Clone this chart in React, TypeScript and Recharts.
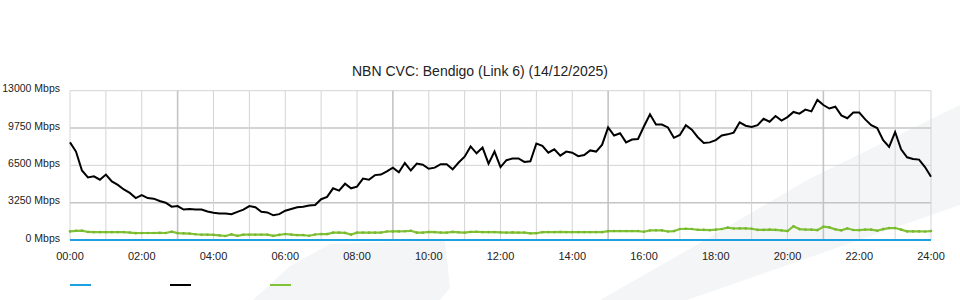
import React from 'react';
import { LineChart, Line, XAxis, YAxis, ReferenceLine } from 'recharts';

const titleText = 'NBN CVC: Bendigo (Link 6) (14/12/2025)';

// 10-minute samples, 00:00 .. 24:00 (145 points)
const trafficIn = [
  8500, 7700, 6050, 5450, 5550, 5250, 5700, 5100, 4800, 4400,
  4100, 3650, 3900, 3650, 3600, 3400, 3250, 2900, 2950, 2650,
  2700, 2650, 2650, 2480, 2380, 2300, 2300, 2250, 2450, 2650,
  2950, 2850, 2450, 2400, 2150, 2250, 2550, 2700, 2850, 2900,
  3000, 3050, 3550, 3750, 4500, 4300, 4900, 4500, 4650, 5350,
  5250, 5650, 5700, 5980, 6300, 5900, 6700, 6050, 6650, 6550,
  6200, 6300, 6600, 6600, 6150, 6750, 7250, 8150, 7550, 8050,
  6650, 7700, 6350, 6950, 7100, 7100, 6800, 6850, 8400, 8200,
  7600, 7900, 7350, 7700, 7600, 7300, 7400, 7800, 7700, 8300,
  9800, 9100, 9300, 8500, 8750, 8800, 9900, 10950, 10050, 10050,
  9800, 8900, 9150, 10000, 9600, 8950, 8450, 8500, 8700, 9100,
  9200, 9350, 10250, 9950, 9850, 10000, 10550, 10300, 10800, 10400,
  10700, 11150, 11000, 11350, 11200, 12200, 11750, 11450, 11600, 10850,
  10600, 11100, 11100, 10500, 10000, 9750, 8700, 8100, 9400, 7900,
  7200, 7050, 7000, 6350, 5500,
];

const trafficOut = [
  750, 800, 810, 700, 690, 690, 690, 690, 690, 690,
  650, 600, 610, 610, 610, 620, 610, 720, 600, 580,
  560, 500, 460, 460, 450, 400, 350, 490, 360, 460,
  460, 460, 460, 460, 360, 450, 520, 470, 430, 430,
  370, 480, 520, 520, 640, 640, 620, 470, 640, 640,
  640, 640, 650, 740, 750, 750, 760, 800, 640, 640,
  700, 690, 650, 640, 710, 670, 640, 700, 720, 690,
  690, 690, 660, 640, 660, 640, 650, 580, 590, 680,
  690, 690, 700, 690, 690, 690, 690, 690, 690, 690,
  770, 780, 780, 780, 780, 780, 720, 830, 840, 840,
  740, 780, 960, 980, 960, 890, 880, 860, 900, 960,
  1080, 1000, 1010, 1010, 980, 880, 880, 900, 880, 830,
  780, 1200, 950, 910, 900, 860, 1160, 1100, 930, 840,
  1000, 870, 860, 900, 900, 810, 950, 1040, 1040, 900,
  750, 750, 750, 740, 780,
];

const capacity = trafficIn.map(() => 0);

const xTickMinutes = [0, 120, 240, 360, 480, 600, 720, 840, 960, 1080, 1200, 1320, 1440];
const xTickLabels = ['00:00', '02:00', '04:00', '06:00', '08:00', '10:00', '12:00', '14:00', '16:00', '18:00', '20:00', '22:00', '24:00'];
const yTicks = [0, 3250, 6500, 9750, 13000];
const gridHours = [0, 1, 2, 3, 4, 5, 6, 7, 8, 9, 10, 11, 12, 13, 14, 15, 16, 17, 18, 19, 20, 21, 22, 23, 24];
const strongHours = [3, 9, 15, 21];
const strongYs = [3250, 9750];

const series = [
  { key: 'capacity', name: 'Capacity', color: '#1ca0e0' },
  { key: 'inbound', name: 'Inbound', color: '#000000' },
  { key: 'outbound', name: 'Outbound', color: '#82c236' },
];

const data = trafficIn.map((v, i) => ({
  t: i * 10,
  capacity: capacity[i],
  inbound: v,
  outbound: trafficOut[i],
}));

const FONT = '"Liberation Sans", Arial, sans-serif';

const YTick = (props: any) => {
  const { x, y, payload } = props;
  return (
    <text x={x} y={y - 2} dy="0.355em" textAnchor="end" fontSize={10.5} fill="#222" fontFamily={FONT}>
      {`${payload.value} Mbps`}
    </text>
  );
};

export default function App() {
  return (
    <div style={{ position: 'absolute', left: 0, top: 0, width: 960, height: 300, background: '#fff', fontFamily: FONT }}>
      <svg width={960} height={300} style={{ position: 'absolute', left: 0, top: 0 }}>
        <polygon points="253,300 290,266 330,244 445,240 450,288 440,300" fill="#f4f5f7" />
        <polygon points="600,300 700,243 807,180 960,105 960,205 687,300" fill="#f4f5f7" />
        <text x={480} y={75.5} textAnchor="middle" fontSize={14} fill="#222" fontFamily={FONT}>{titleText}</text>
      </svg>
      <div style={{ position: 'absolute', left: 0, top: 0 }}>
        <LineChart width={960} height={300} data={data} margin={{ top: 90.7, right: 29, bottom: 0, left: 0 }}>
          <XAxis
            dataKey="t"
            type="number"
            domain={[0, 1440]}
            ticks={xTickMinutes}
            tickFormatter={(v: number) => xTickLabels[xTickMinutes.indexOf(v)]}
            axisLine={false}
            tickLine={false}
            tickSize={0}
            tickMargin={12}
            height={60}
            tick={{ fontSize: 11, fill: '#222', fontFamily: FONT }}
            interval={0}
          />
          <YAxis
            type="number"
            domain={[0, 13000]}
            ticks={yTicks}
            axisLine={false}
            tickLine={false}
            tickSize={0}
            tickMargin={10}
            width={70}
            tick={<YTick />}
            interval={0}
          />
          {yTicks.map((y) => (
            <ReferenceLine key={'y' + y} y={y} stroke={strongYs.includes(y) ? '#c4c4c4' : '#d4d4d4'} strokeWidth={strongYs.includes(y) ? 1.6 : 1} />
          ))}
          {gridHours.map((h) => (
            <ReferenceLine key={'x' + h} x={h * 60} stroke={strongHours.includes(h) ? '#c4c4c4' : '#d4d4d4'} strokeWidth={strongHours.includes(h) ? 1.6 : 1} />
          ))}
          <Line dataKey="outbound" name="Outbound" stroke={series[2].color} strokeWidth={2.2} dot={{ r: 1.3, fill: '#78b830', stroke: 'none' }} isAnimationActive={false} />
          <Line dataKey="capacity" name="Capacity" stroke={series[0].color} strokeWidth={2} dot={false} isAnimationActive={false} />
          <Line dataKey="inbound" name="Inbound" stroke={series[1].color} strokeWidth={2} dot={false} isAnimationActive={false} />
        </LineChart>
      </div>
      <svg width={960} height={300} style={{ position: 'absolute', left: 0, top: 0, pointerEvents: 'none' }}>
        {series.map((s, i) => (
          <line key={s.key} x1={70 + i * 100} x2={91 + i * 100} y1={285} y2={285} stroke={s.color} strokeWidth={2} />
        ))}
      </svg>
    </div>
  );
}
